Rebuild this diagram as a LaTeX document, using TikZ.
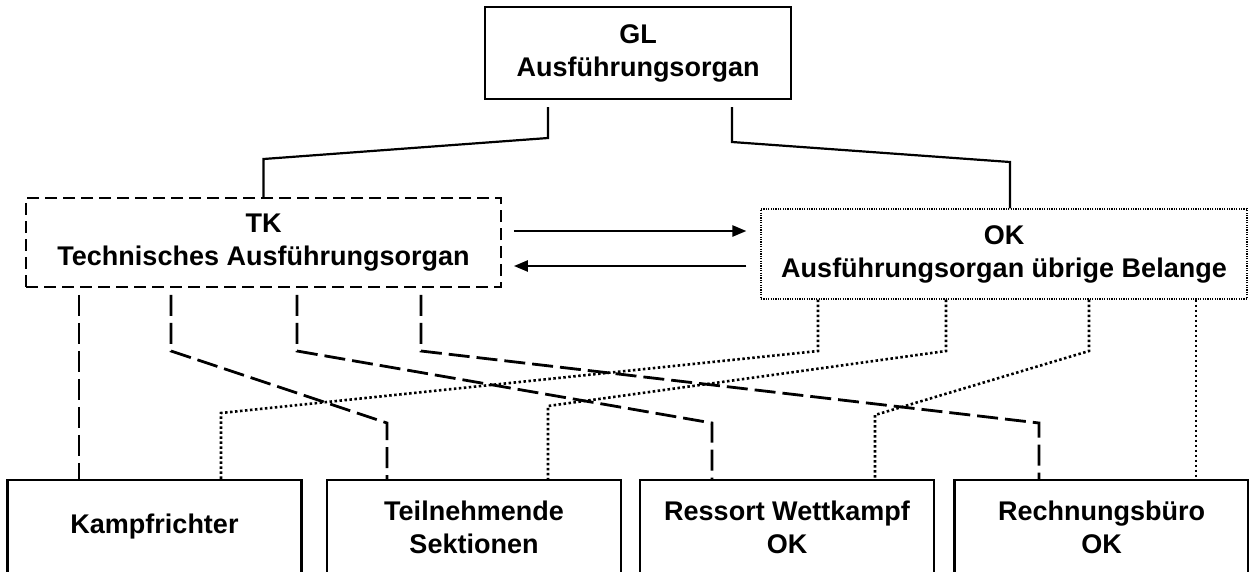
\documentclass[tikz,border=0pt]{standalone}
\usepackage{fontspec}
\setmainfont{Liberation Sans}
\usetikzlibrary{arrows.meta}

\tikzset{
    box/.style={draw, align=center, inner sep=0pt},
    glbox/.style={box, line width=2pt, minimum width=306pt, minimum height=92pt},
    tkbox/.style={box, line width=1.8pt, dash pattern=on 12pt off 6pt, minimum width=475pt, minimum height=89pt},
    okbox/.style={box, line width=1.2pt, dash pattern=on 1.2pt off 1.2pt, minimum width=486pt, minimum height=90pt},
    unitbox/.style={box, line width=2.5pt, minimum width=294pt, minimum height=94pt},
    solidline/.style={line width=2.2pt},
    tkline/.style={line width=2.8pt, dash pattern=on 21pt off 7pt},
    okline/.style={line width=2.6pt, dash pattern=on 2.5pt off 2.5pt},
    flow/.style={line width=2.4pt, -{Triangle[length=14pt,width=11pt]}}
}

\begin{document}
\begin{tikzpicture}[x=1pt, y=-1pt, font=\bfseries\fontsize{27}{33}\selectfont]
    \useasboundingbox (0,0) rectangle (1249,571);

    \node[glbox] (gl) at (638,53) {GL\\Ausführungsorgan};
    \node[tkbox] (tk) at (263.5,242.5) {TK\\Technisches Ausführungsorgan};
    \node[okbox] (ok) at (1004,254) {OK\\Ausführungsorgan übrige Belange};

    \foreach \id/\xpos/\txt in {k/154.5/Kampfrichter, t/474/Teilnehmende\\Sektionen,
                                r/787/Ressort Wettkampf\\OK, b/1101.5/Rechnungsbüro\\OK} {
        \node[unitbox] (\id) at (\xpos,527) {\txt};
    }

    % GL to TK and OK
    \draw[solidline] (gl.south -| 548,0) ++(0,7) -- (548,138) -- (tk.north |- 0,159) -- (tk.north);
    \draw[solidline] (gl.south -| 732,0) ++(0,7) -- (732,142) -- (1010,162) -- (ok.north -| 1010,0);

    % TK <-> OK
    \draw[flow, shorten <=12pt, shorten >=14pt] (tk.east |- 0,231) -- (ok.west |- 0,231);
    \draw[flow, shorten <=14pt, shorten >=12pt] (ok.west |- 0,266) -- (tk.east |- 0,266);

    % TK to units
    \draw[tkline] (tk.south -| 79,0) ++(0,7) -- (k.north -| 79,0);
    \foreach \sx/\ex/\target in {171/387/t, 297/712/r, 421/1039/b} {
        \draw[tkline] (tk.south -| \sx,0) ++(0,7) -- (\sx,351) -- (\ex,423) -- (\target.north -| \ex,0);
    }

    % OK to units
    \foreach \sx/\ex/\ey/\target in {818/221/413/k, 946/548/406/t, 1089/875/415/r} {
        \draw[okline] (ok.south -| \sx,0) -- (\sx,351) -- (\ex,\ey) -- (\target.north -| \ex,0);
    }
    \draw[okline] (ok.south -| 1196,0) -- (b.north -| 1196,0);
\end{tikzpicture}
\end{document}
